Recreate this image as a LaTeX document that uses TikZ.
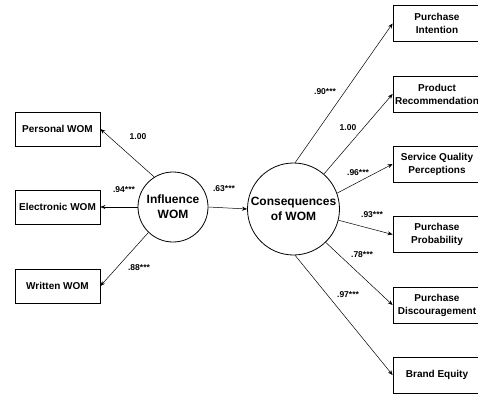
\documentclass[tikz,border=0pt]{standalone}
\usepackage{fontspec}
\setmainfont{Liberation Sans}
\usetikzlibrary{arrows.meta}

\tikzstyle{obs} = [draw, thick, fill=white, align=center, inner sep=1pt, font=\fontsize{10}{13}\selectfont\bfseries]
\tikzstyle{latent} = [draw, thick, circle, fill=white, align=center, inner sep=0pt, font=\fontsize{12}{15}\selectfont\bfseries]
\tikzstyle{load} = [font=\fontsize{8.5}{9}\selectfont\bfseries, inner sep=0pt]
\tikzstyle{path} = [-{Stealth[length=5pt,width=4pt]}, line width=0.5pt]

\begin{document}
\begin{tikzpicture}[x=1pt, y=-1pt]
      \useasboundingbox (0,0) rectangle (478,396);
      \clip (0,0) rectangle (478,396);
      % latent variables
      \node[latent, minimum size=70pt] (inf) at (173,207) {Influence\\WOM};
      \node[latent, minimum size=92pt] (cons) at (293.5,209) {Consequences\\of WOM};
      % influence indicators
      \node[obs, minimum width=85pt, minimum height=34pt] (pers) at (57.5,129) {Personal WOM};
      \node[obs, minimum width=85pt, minimum height=34pt] (elec) at (57.5,207) {Electronic WOM};
      \node[obs, minimum width=85pt, minimum height=34pt] (writ) at (57.5,286) {Written WOM};
      % consequence indicators
      \node[obs, minimum width=88pt, minimum height=36pt] (pint) at (437,23.5) {Purchase\\Intention};
      \node[obs, minimum width=88pt, minimum height=36pt] (prec) at (437,94) {Product\\Recommendation};
      \node[obs, minimum width=88pt, minimum height=36pt] (sqp) at (437,164) {Service Quality\\Perceptions};
      \node[obs, minimum width=88pt, minimum height=36pt] (pprob) at (437,234.5) {Purchase\\Probability};
      \node[obs, minimum width=88pt, minimum height=36pt] (pdisc) at (437,305) {Purchase\\Discouragement};
      \node[obs, minimum width=88pt, minimum height=36pt] (brand) at (437,375) {Brand Equity};
      % paths
      \draw[path] (inf.122) -- (pers.east);
      \draw[path] (inf.west) -- (elec.east);
      \draw[path] (inf.226) -- (writ.east);
      \draw[path] (inf.east) -- (cons.west);
      \draw[path] (cons.88) -- (pint.west);
      \draw[path] (cons.49) -- (prec.west);
      \draw[path] (cons.20) -- (sqp.west);
      \draw[path] (cons.-14) -- (pprob.west);
      \draw[path] (cons.-46) -- (pdisc.west);
      \draw[path] (cons.-88) -- (brand.west);
      % loadings
      \node[load] (l1) at (138,137) {1.00};
      \node[load] (l2) at (124,190) {.94***};
      \node[load] (l3) at (139,268) {.88***};
      \node[load] (l4) at (224,189) {.63***};
      \node[load] (l5) at (325,92) {.90***};
      \node[load] (l6) at (348,128) {1.00};
      \node[load] (l7) at (358,173) {.96***};
      \node[load] (l8) at (372,215) {.93***};
      \node[load] (l9) at (362,255) {.78***};
      \node[load] (l10) at (348,295) {.97***};
    \end{tikzpicture}
\end{document}
